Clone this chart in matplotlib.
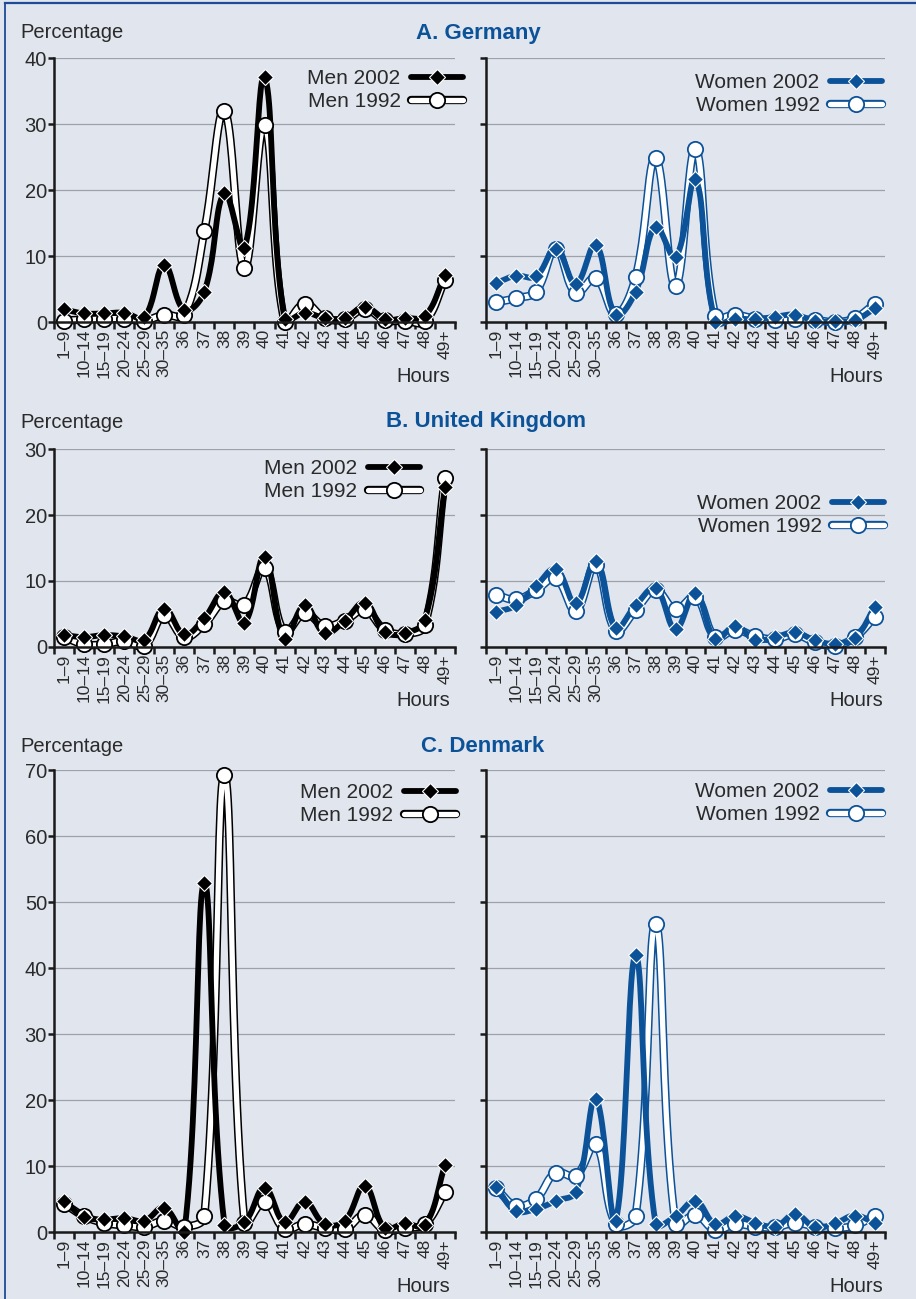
import numpy as np
import matplotlib
matplotlib.use('Agg')
import matplotlib.pyplot as plt
import matplotlib.patheffects as pe
from matplotlib.legend_handler import HandlerTuple

categories = ['1–9', '10–14', '15–19', '20–24', '25–29', '30–35', '36', '37', '38', '39',
              '40', '41', '42', '43', '44', '45', '46', '47', '48', '49+']

# A. Germany
de_men_2002 = [1.9, 1.3, 1.3, 1.4, 0.7, 8.6, 1.8, 4.6, 19.5, 11.2, 37.1, 0.4, 1.4, 0.6, 0.6, 2.3, 0.4, 0.6, 0.9, 7.1]
de_men_1992 = [0.2, 0.4, 0.5, 0.5, 0.2, 1.1, 1.1, 13.8, 32.0, 8.2, 29.8, 0.0, 2.8, 0.6, 0.4, 2.0, 0.3, 0.2, 0.1, 6.4]
de_women_2002 = [5.9, 7.0, 6.9, 11.1, 5.8, 11.7, 1.1, 4.6, 14.4, 9.8, 21.6, 0.0, 0.5, 0.4, 0.8, 1.1, 0.1, 0.1, 0.3, 2.1]
de_women_1992 = [3.0, 3.6, 4.6, 11.0, 4.4, 6.7, 1.2, 6.8, 24.8, 5.4, 26.2, 0.9, 1.1, 0.5, 0.3, 0.4, 0.3, 0.0, 0.6, 2.8]

# B. United Kingdom
uk_men_2002 = [1.8, 1.5, 1.8, 1.6, 1.1, 5.8, 1.9, 4.4, 8.3, 3.7, 13.7, 1.2, 6.3, 2.1, 4.0, 6.7, 2.3, 2.1, 4.1, 24.2]
uk_men_1992 = [1.5, 0.4, 0.4, 0.9, 0.2, 4.8, 1.5, 3.5, 6.9, 6.4, 12.0, 2.3, 5.1, 3.2, 4.0, 5.6, 2.6, 2.0, 3.3, 25.6]
uk_women_2002 = [5.3, 6.3, 9.2, 11.8, 6.6, 13.0, 2.9, 6.3, 8.9, 2.7, 8.2, 1.2, 3.2, 1.1, 1.5, 2.2, 1.0, 0.5, 1.4, 6.1]
uk_women_1992 = [7.9, 7.2, 8.6, 10.4, 5.5, 12.5, 2.5, 5.6, 8.6, 5.7, 7.6, 1.5, 2.6, 1.6, 1.2, 1.9, 0.7, 0.2, 1.5, 4.6]

# C. Denmark
dk_men_2002 = [4.7, 2.3, 1.9, 2.1, 1.7, 3.7, 0.0, 52.9, 1.1, 1.5, 6.7, 1.5, 4.6, 1.2, 1.7, 7.0, 0.6, 1.3, 1.0, 10.1]
dk_men_1992 = [4.3, 2.4, 1.4, 1.0, 0.8, 1.7, 0.8, 2.4, 69.2, 1.3, 4.6, 0.5, 1.2, 0.6, 0.4, 2.6, 0.3, 0.6, 1.2, 6.1]
dk_women_2002 = [6.8, 3.2, 3.5, 4.7, 6.1, 20.2, 1.7, 41.9, 1.2, 2.4, 4.7, 1.2, 2.4, 1.4, 0.8, 2.7, 0.7, 1.3, 2.5, 1.3]
dk_women_1992 = [6.6, 4.0, 5.0, 9.0, 8.5, 13.3, 1.2, 2.4, 46.6, 1.2, 2.6, 0.3, 1.2, 0.8, 0.7, 1.4, 0.8, 0.6, 1.0, 2.5]

titles = ['A. Germany', 'B. United Kingdom', 'C. Denmark']
y_max = [40, 30, 70]
men_labels = ['Men 2002', 'Men 1992']
women_labels = ['Women 2002', 'Women 1992']

BG = '#e0e5ee'
BLUE = '#0c5298'
TXT = '#2a2a2a'
FONT = ['Liberation Sans', 'DejaVu Sans']
plt.rcParams['font.family'] = FONT

W, H = 916, 1299
fig = plt.figure(figsize=(W / 100, H / 100), dpi=100, facecolor=BG)

# frame lines (left and top)
fig.add_artist(plt.Line2D([4.5 / W, 4.5 / W], [0, 1 - 2.5 / H], transform=fig.transFigure, color='#1f4a98', lw=1.3))
fig.add_artist(plt.Line2D([4.5 / W, 1], [1 - 2.5 / H, 1 - 2.5 / H], transform=fig.transFigure, color='#1f4a98', lw=1.6))


def smooth(xv, yv, sx, sy, tension=0.4, n=24):
    """Bezier smoothing with control arms weighted by neighbouring segment
    lengths (measured in pixel space), like spreadsheet 'smoothed lines'."""
    x = np.asarray(xv, float) * sx
    y = np.asarray(yv, float) * sy
    P = np.column_stack([x, y])
    npts = len(P)
    cin = np.zeros_like(P)
    cout = np.zeros_like(P)
    for i in range(npts):
        p0 = P[max(i - 1, 0)]
        p1 = P[i]
        p2 = P[min(i + 1, npts - 1)]
        d01 = np.hypot(*(p1 - p0))
        d12 = np.hypot(*(p2 - p1))
        tot = d01 + d12
        if tot == 0:
            cin[i] = p1
            cout[i] = p1
            continue
        v = p2 - p0
        cin[i] = p1 - tension * d01 / tot * v
        cout[i] = p1 + tension * d12 / tot * v
    t = np.linspace(0, 1, n)[:, None]
    pts = []
    for i in range(npts - 1):
        a, b, c, d = P[i], cout[i], cin[i + 1], P[i + 1]
        seg = ((1 - t) ** 3) * a + 3 * ((1 - t) ** 2) * t * b + 3 * (1 - t) * t ** 2 * c + t ** 3 * d
        pts.append(seg if i == 0 else seg[1:])
    pts = np.vstack(pts)
    return pts[:, 0] / sx, pts[:, 1] / sy


# axes geometry in pixels: (top, bottom)
rows_px = [(58, 322), (449, 647), (770, 1232)]
cols_px = [(54, 455), (486, 885)]
title_px = [(478, 33), (486, 422), (483, 746)]
perc_px = [32, 423, 747]
hours_px = [376, 701, 1287]
legend_anchor = [[(463, 69), (882, 73)], [(420, 459), (884, 494)], [(456, 783), (882, 782)]]

data = [
    [(de_men_2002, de_men_1992), (de_women_2002, de_women_1992)],
    [(uk_men_2002, uk_men_1992), (uk_women_2002, uk_women_1992)],
    [(dk_men_2002, dk_men_1992), (dk_women_2002, dk_women_1992)],
]

xs = np.arange(len(categories))

for r in range(3):
    top, bot = rows_px[r]
    fig.text(title_px[r][0] / W, 1 - title_px[r][1] / H, titles[r], ha='center', va='center',
             fontsize=16, fontweight='bold', color=BLUE)
    fig.text(20 / W, 1 - perc_px[r] / H, 'Percentage', ha='left', va='center', fontsize=14.5, color=TXT)
    for c in range(2):
        left, right = cols_px[c]
        ax = fig.add_axes([left / W, 1 - bot / H, (right - left) / W, (bot - top) / H])
        ax.set_facecolor('none')
        color = 'black' if c == 0 else BLUE
        v02, v92 = data[r][c]
        labels = men_labels if c == 0 else women_labels

        # pixel scale factors for smoothing
        px_x = (right - left) / len(categories)
        px_y = (bot - top) / y_max[r]

        sx_, sy_ = smooth(xs, v92, px_x, px_y)
        l92, = ax.plot(sx_, sy_, color='white', lw=3.8, zorder=3, clip_on=False, solid_capstyle='round',
                       path_effects=[pe.Stroke(linewidth=6.0, foreground=color), pe.Normal()])
        sx_, sy_ = smooth(xs, v02, px_x, px_y)
        l02, = ax.plot(sx_, sy_, color=color, lw=4.2, zorder=4, clip_on=False, solid_capstyle='round')
        m92, = ax.plot(xs, v92, linestyle='None', marker='o', ms=11, mfc='white', mec=color, mew=1.3,
                       zorder=5, clip_on=False)
        m02, = ax.plot(xs, v02, linestyle='None', marker='D', ms=8.5, mfc=color, mec='white', mew=0.8,
                       zorder=6, clip_on=False)

        ax.set_xlim(-0.5, len(categories) - 0.5)
        ax.set_ylim(0, y_max[r])
        ax.set_yticks(np.arange(0, y_max[r] + 1, 10))
        ax.yaxis.grid(True, color='#9ca1aa', lw=0.9)
        ax.set_axisbelow(True)
        ax.set_xticks(np.arange(-0.5, len(categories), 1.0))
        ax.set_xticklabels([])
        ax.set_xticks(xs, minor=True)
        ax.set_xticklabels(categories, minor=True, rotation=90, fontsize=12.5, color=TXT)
        ax.tick_params(axis='x', which='major', length=5, width=1.8, color='#1a1a1a', direction='out')
        ax.tick_params(axis='x', which='minor', length=0, pad=5)
        ax.tick_params(axis='y', length=4, width=1.8, color='#1a1a1a', pad=1, labelsize=14.5, labelcolor=TXT)
        if c == 1:
            ax.set_yticklabels([])
        for s in ['top', 'right']:
            ax.spines[s].set_visible(False)
        for s in ['left', 'bottom']:
            ax.spines[s].set_color('#1a1a1a')
            ax.spines[s].set_linewidth(1.8)
            ax.spines[s].set_zorder(7)

        hx = 450 if c == 0 else 883
        fig.text(hx / W, 1 - hours_px[r] / H, 'Hours', ha='right', va='center', fontsize=14.5, color=TXT)

        ax_x, ax_y = legend_anchor[r][c]
        leg = ax.legend([(l02, m02), (l92, m92)], labels,
                        handler_map={tuple: HandlerTuple(ndivide=1, pad=0)},
                        loc='upper right', bbox_to_anchor=(ax_x / W, 1 - ax_y / H),
                        bbox_transform=fig.transFigure, frameon=False, markerfirst=False,
                        fontsize=15, handlelength=2.5, handletextpad=0.5, labelspacing=0.2,
                        borderpad=0, borderaxespad=0, numpoints=1)
        for t in leg.get_texts():
            t.set_color(TXT)

fig.savefig('out.png', dpi=100, facecolor=BG)
